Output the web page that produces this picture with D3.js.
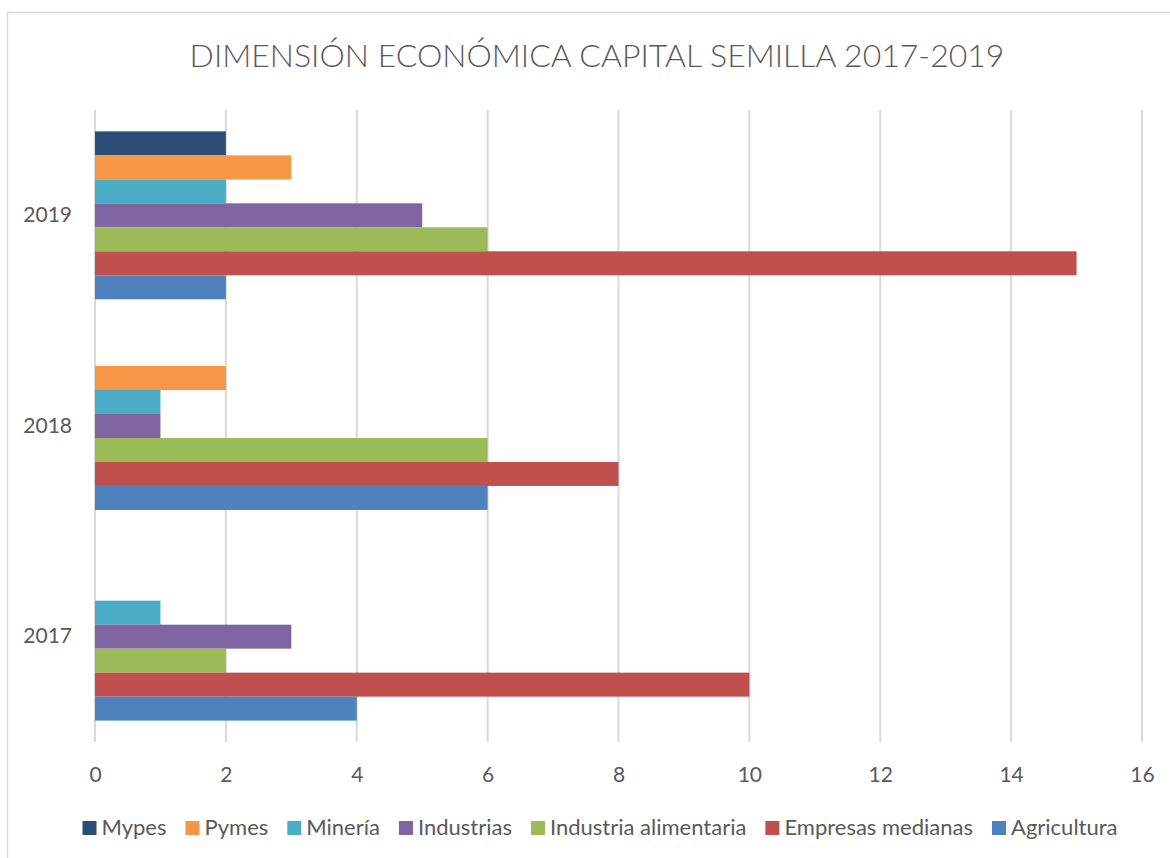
<!DOCTYPE html>
<html>
<head>
<meta charset="utf-8">
<script src="https://cdn.jsdelivr.net/npm/d3@7"></script>
<style>
  html, body { margin: 0; padding: 0; background: #fff; }
  svg { display: block; font-family: Lato, "Open Sans", sans-serif; }
</style>
</head>
<body>
<svg id="chart" width="1170" height="858"></svg>
<script>
// data
var years = ["2019", "2018", "2017"];
var series = ["Mypes", "Pymes", "Minería", "Industrias", "Industria alimentaria", "Empresas medianas", "Agricultura"];
var colors = ["#2c4d75", "#f79646", "#4bacc6", "#8064a2", "#9bbb59", "#c0504d", "#4f81bd"];
// values per series, in the order of the years array (2019, 2018, 2017)
var mypes       = [2, 0, 0];
var pymes       = [3, 2, 0];
var mineria     = [2, 1, 1];
var industrias  = [5, 1, 3];
var alimentaria = [6, 6, 2];
var empresas    = [15, 8, 10];
var agricultura = [2, 6, 4];
var xTicks = [0, 2, 4, 6, 8, 10, 12, 14, 16];

var values = [mypes, pymes, mineria, industrias, alimentaria, empresas, agricultura];

var svg = d3.select("#chart");
var margin = {top: 110, right: 28, bottom: 116, left: 95};
var width = 1170 - margin.left - margin.right,
    height = 858 - margin.top - margin.bottom;

// chart frame
svg.append("rect")
    .attr("x", 7.5).attr("y", 12.5)
    .attr("width", 1300).attr("height", 1000)
    .attr("fill", "#fff")
    .attr("stroke", "#d9d9d9")
    .attr("stroke-width", 1.5);

svg.append("text")
    .attr("x", 597).attr("y", 67)
    .attr("text-anchor", "middle")
    .attr("fill", "#595959")
    .style("font-size", "32px")
    .style("font-weight", 300)
    .text("DIMENSIÓN ECONÓMICA CAPITAL SEMILLA 2017-2019");

var g = svg.append("g").attr("transform", "translate(" + margin.left + "," + margin.top + ")");

var x = d3.scaleLinear().domain([0, 16]).range([0, width]);
var y0 = d3.scaleBand().domain(years).range([0, height]).paddingInner(0.203).paddingOuter(0.1015);
var y1 = d3.scaleBand().domain(series).range([0, y0.bandwidth()]);

// gridlines
g.selectAll(".grid")
    .data(xTicks)
    .enter().append("line")
    .attr("class", "grid")
    .attr("x1", function(d) { return x(d); })
    .attr("x2", function(d) { return x(d); })
    .attr("y1", 0).attr("y2", height)
    .attr("stroke", "#d9d9d9")
    .attr("stroke-width", 2);

// bars
var groups = g.selectAll(".year")
    .data(years)
    .enter().append("g")
    .attr("class", "year")
    .attr("transform", function(d) { return "translate(0," + y0(d) + ")"; });

groups.selectAll("rect")
    .data(function(d, i) {
        return series.map(function(s, j) { return {s: s, v: values[j][i], c: colors[j]}; });
    })
    .enter().append("rect")
    .attr("x", x(0))
    .attr("y", function(d) { return y1(d.s); })
    .attr("width", function(d) { return x(d.v) - x(0); })
    .attr("height", y1.bandwidth())
    .attr("fill", function(d) { return d.c; });

// x axis labels
var xAxis = g.append("g")
    .attr("transform", "translate(0," + height + ")")
    .call(d3.axisBottom(x).tickValues(xTicks).tickSize(0).tickPadding(25));
xAxis.select(".domain").remove();
xAxis.selectAll("text")
    .attr("fill", "#595959")
    .style("font-size", "21px")
    .style("font-family", "Lato, sans-serif");

// y axis labels
var yAxis = g.append("g")
    .call(d3.axisLeft(y0).tickSize(0).tickPadding(23));
yAxis.select(".domain").remove();
yAxis.selectAll("text")
    .attr("fill", "#595959")
    .style("font-size", "21px")
    .style("font-family", "Lato, sans-serif");

// legend
var legend = svg.append("g");
var lx = 0;
series.forEach(function(s, i) {
    var item = legend.append("g").attr("transform", "translate(" + lx + ",0)");
    item.append("rect")
        .attr("x", 0).attr("y", -14)
        .attr("width", 14).attr("height", 14)
        .attr("fill", colors[i]);
    var t = item.append("text")
        .attr("x", 19).attr("y", 0)
        .attr("fill", "#595959")
        .style("font-size", "22px")
        .text(s);
    lx += 19 + t.node().getComputedTextLength() + 19;
});
lx -= 19;
legend.attr("transform", "translate(" + (600 - lx / 2) + ",835)");
</script>
</body>
</html>
